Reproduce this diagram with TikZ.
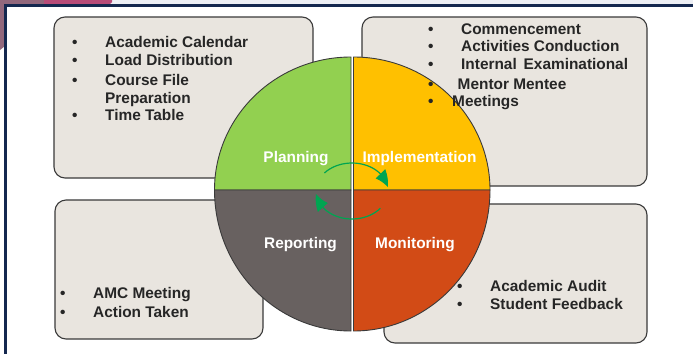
\documentclass[tikz,border=0pt]{standalone}
\usepackage{fontspec}
\setmainfont{Liberation Sans}
\usetikzlibrary{arrows.meta,bending}
\definecolor{boxfill}{HTML}{E9E5DF}
\definecolor{boxline}{HTML}{3A3A3A}
\definecolor{txt}{HTML}{262626}
\definecolor{qgreen}{HTML}{92D050}
\definecolor{qyellow}{HTML}{FFC000}
\definecolor{qorange}{HTML}{D24B16}
\definecolor{qgray}{HTML}{686160}
\definecolor{arrgreen}{HTML}{00A551}
\definecolor{navy}{HTML}{14284F}
\definecolor{topstrip}{HTML}{EDEFF5}
\definecolor{mauve}{HTML}{92687C}
\definecolor{magenta}{HTML}{B84C78}
\tikzset{
  x=1pt, y=-1pt,
  infobox/.style={fill=boxfill, draw=boxline, line width=1.1pt, rounded corners=11pt},
  quad/.style={draw=boxline, line width=0.9pt},
  item/.style={anchor=base west, inner sep=0pt, text=txt, font=\fontsize{15.4}{17}\selectfont\bfseries},
  bul/.style={anchor=base west, inner sep=0pt, text=txt, font=\fontsize{15.4}{17}\selectfont\bfseries},
  lab/.style={anchor=base, inner sep=0pt, text=white, font=\fontsize{15.4}{17}\selectfont\bfseries},
  cyc/.style={draw=arrgreen, line width=1.2pt, -{Triangle[length=15pt,width=13pt,bend]}}
}
\begin{document}
\begin{tikzpicture}
\useasboundingbox (0,0) rectangle (693,354);
% background and frame
\fill[white] (0,0) rectangle (693,354);
\fill[topstrip] (0,0) rectangle (693,5);
\fill[mauve] (0,0) -- (44,0) -- (44,5) -- (5,5) -- (5,46) -- (0,50) -- cycle;
\fill[magenta] (44,0) -- (112,0) to[out=-60,in=0] (106,5) -- (44,5) -- cycle;
\draw[navy, line width=2.4pt] (693,5.5) -- (5.5,5.5) -- (5.5,354);
% boxes
\draw[infobox] (54,17) rectangle (313,178);
\draw[infobox] (362,17) rectangle (647,186);
\draw[infobox] (55,200) rectangle (263,339);
\draw[infobox] (384,204) rectangle (647,343);
% quadrants
\draw[quad, fill=qgreen] (351,190) -- (214.5,190) arc[start angle=180, end angle=270, x radius=136.5, y radius=133] -- cycle;
\draw[quad, fill=qyellow] (353.5,190) -- (353.5,57) arc[start angle=270, end angle=360, x radius=136.5, y radius=133] -- cycle;
\draw[quad, fill=qorange] (353.5,190) -- (490,190) arc[start angle=0, end angle=90, x radius=136.5, y radius=141] -- cycle;
\draw[quad, fill=qgray] (351,190) -- (351,331) arc[start angle=90, end angle=180, x radius=136.5, y radius=141] -- cycle;
% labels
\node[lab] (planning) at (296,162) {Planning};
\node[lab] (implementation) at (419.5,162) {Implementation};
\node[lab] (reporting) at (300.5,248) {Reporting};
\node[lab] (monitoring) at (415,248) {Monitoring};
% cycle arrows
\coordinate (cc) at (352,191);
\draw[cyc] ([shift={(220:36 and 28)}]cc) arc[start angle=220, end angle=352, x radius=36, y radius=28];
\draw[cyc] ([shift={(38:36 and 28)}]cc) arc[start angle=38, end angle=174, x radius=36, y radius=28];
% planning list
\node[bul] (b1) at (72,47) {•};
\node[item] (t1) at (105,47) {Academic Calendar};
\node[bul] (b2) at (72,65) {•};
\node[item] (t2) at (105,65) {Load Distribution};
\node[bul] (b3) at (72,85) {•};
\node[item] (t3) at (105,85) {Course File};
\node[item] (t3b) at (105,103) {Preparation};
\node[bul] (b4) at (72,120) {•};
\node[item] (t4) at (105,120) {Time Table};
% implementation list
\node[bul] (c1) at (428,34) {•};
\node[item] (u1) at (461,34) {Commencement};
\node[bul] (c2) at (428,51) {•};
\node[item] (u2) at (461,51) {Activities Conduction};
\node[bul] (c3) at (428,69) {•};
\node[item] (u3) at (461,69) {Internal\, Examinational};
\node[bul] (c4) at (428,89) {•};
\node[item] (u4) at (457.5,89) {Mentor Mentee};
\node[bul] (c5) at (428,106) {•};
\node[item] (u5) at (452,106) {Meetings};
% reporting list
\node[bul] (d1) at (60,298) {•};
\node[item] (v1) at (93,298) {AMC Meeting};
\node[bul] (d2) at (60,317) {•};
\node[item] (v2) at (93,317) {Action Taken};
% monitoring list
\node[bul] (e1) at (457,291) {•};
\node[item] (w1) at (490,291) {Academic Audit};
\node[bul] (e2) at (457,309) {•};
\node[item] (w2) at (490,309) {Student Feedback};
\end{tikzpicture}
\end{document}
